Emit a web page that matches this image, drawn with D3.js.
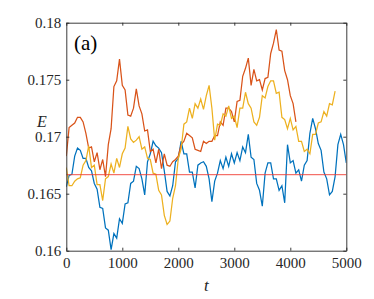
<!DOCTYPE html>
<html>
<head>
<meta charset="utf-8">
<script src="https://cdn.jsdelivr.net/npm/d3@7"></script>
<style>
  body { margin: 0; background: #fff; }
</style>
</head>
<body>
<div id="chart"></div>
<script>
// Chart size and plot box
const width = 374;
const height = 299;
const margin = { left: 66.3, right: 27.7, top: 22.7, bottom: 48.3 };
const serif = "Liberation Serif";

// time step of the series
const dt = 50;

// series values (E at t = 0, 50, 100, ...)
const blueE = [
  0.1656, 0.1666, 0.1667, 0.1683, 0.1690, 0.1688, 0.1681, 0.1681, 0.1673, 0.1670,
  0.1659, 0.1654, 0.1638, 0.1637, 0.1620, 0.1618, 0.1601, 0.1615, 0.1611, 0.1628,
  0.1624, 0.1641, 0.1642, 0.1659, 0.1661, 0.1674, 0.1672, 0.1663, 0.1649, 0.1678,
  0.1685, 0.1696, 0.1692, 0.1690, 0.1686, 0.1670, 0.1652, 0.1648, 0.1657, 0.1678,
  0.1681, 0.1696, 0.1685, 0.1685, 0.1669, 0.1669, 0.1655, 0.1675, 0.1677, 0.1678,
  0.1674, 0.1663, 0.1643, 0.1661, 0.1668, 0.1679, 0.1672, 0.1682, 0.1674, 0.1685,
  0.1677, 0.1686, 0.1679, 0.1691, 0.1686, 0.1702, 0.1682, 0.1680, 0.1659, 0.1653,
  0.1639, 0.1668, 0.1677, 0.1677, 0.1663, 0.1663, 0.1653, 0.1657, 0.1642, 0.1693,
  0.1677, 0.1679, 0.1668, 0.1671, 0.1661, 0.1675, 0.1679, 0.1703, 0.1716, 0.1707,
  0.1694, 0.1688, 0.1669, 0.1663, 0.1649, 0.1652, 0.1665, 0.1693, 0.1702, 0.1693,
  0.1677
];
const orangeE = [
  0.1683, 0.1708, 0.1710, 0.1712, 0.1717, 0.1717, 0.1713, 0.1703, 0.1690, 0.1691,
  0.1678, 0.1686, 0.1671, 0.1680, 0.1665, 0.1693, 0.1707, 0.1744, 0.1749, 0.1768,
  0.1745, 0.1741, 0.1719, 0.1718, 0.1725, 0.1742, 0.1727, 0.1720, 0.1705, 0.1706,
  0.1687, 0.1689, 0.1677, 0.1689, 0.1672, 0.1685, 0.1675, 0.1674, 0.1678, 0.1680,
  0.1683, 0.1693, 0.1696, 0.1703, 0.1701, 0.1699, 0.1689, 0.1688, 0.1687, 0.1696,
  0.1694, 0.1696, 0.1696, 0.1701, 0.1701, 0.1713, 0.1710, 0.1725, 0.1725, 0.1722,
  0.1713, 0.1731, 0.1732, 0.1753, 0.1760, 0.1769, 0.1745, 0.1759, 0.1749, 0.1750,
  0.1741, 0.1751, 0.1752, 0.1773, 0.1782, 0.1794, 0.1776, 0.1775, 0.1758, 0.1750,
  0.1736, 0.1729, 0.1713
];
const yellowE = [
  0.1673, 0.1657, 0.1657, 0.1661, 0.1663, 0.1664, 0.1675, 0.1679, 0.1692, 0.1673,
  0.1675, 0.1658, 0.1658, 0.1644, 0.1663, 0.1665, 0.1676, 0.1668, 0.1681, 0.1673,
  0.1685, 0.1690, 0.1709, 0.1698, 0.1695, 0.1697, 0.1700, 0.1689, 0.1691, 0.1681,
  0.1680, 0.1668, 0.1667, 0.1653, 0.1649, 0.1631, 0.1623, 0.1626, 0.1646, 0.1657,
  0.1681, 0.1689, 0.1711, 0.1713, 0.1725, 0.1716, 0.1729, 0.1725, 0.1733, 0.1724,
  0.1736, 0.1745, 0.1725, 0.1697, 0.1711, 0.1710, 0.1720, 0.1718, 0.1727, 0.1716,
  0.1718, 0.1708, 0.1725, 0.1725, 0.1739, 0.1729, 0.1725, 0.1713, 0.1710, 0.1717,
  0.1736, 0.1734, 0.1744, 0.1749, 0.1749, 0.1738, 0.1739, 0.1717, 0.1715, 0.1707,
  0.1716, 0.1706, 0.1709, 0.1696, 0.1696, 0.1687, 0.1689, 0.1685, 0.1702, 0.1702,
  0.1712, 0.1713, 0.1722, 0.1718, 0.1729, 0.1728, 0.1740
];

// reference level (1/6) and axis ticks
const refE = 1 / 6;
const xTicks = [0, 1000, 2000, 3000, 4000, 5000];
const yTicks = [0.16, 0.165, 0.17, 0.175, 0.18];
const yTickLabels = ["0.16", "0.165", "0.17", "0.175", "0.18"];

const seriesColors = ["#0072BD", "#D95319", "#EDB120"];

const svg = d3.select("#chart")
  .append("svg")
  .attr("width", width)
  .attr("height", height);

const x = d3.scaleLinear()
  .domain([0, 5000])
  .range([margin.left, width - margin.right]);

const y = d3.scaleLinear()
  .domain([0.16, 0.18])
  .range([height - margin.bottom, margin.top]);

// clip so lines stay in the box
svg.append("clipPath").attr("id", "clip")
  .append("rect")
  .attr("x", margin.left).attr("y", margin.top)
  .attr("width", x.range()[1] - x.range()[0])
  .attr("height", y.range()[0] - y.range()[1]);

const line = d3.line()
  .x((d, i) => x(i * dt))
  .y(d => y(d));

const plot = svg.append("g").attr("clip-path", "url(#clip)");

[blueE, orangeE, yellowE].forEach(function(vals, k) {
  plot.append("path")
    .datum(vals)
    .attr("d", line)
    .attr("fill", "none")
    .attr("stroke", seriesColors[k])
    .attr("stroke-width", 1.25);
});

// reference line
plot.append("line")
  .attr("x1", x(0)).attr("x2", x(5000))
  .attr("y1", y(refE)).attr("y2", y(refE))
  .attr("stroke", "#f03c32")
  .attr("stroke-width", 0.9);

// axes, ticks pointing inward, box on
const axisColor = "#262626";
const tickLen = 3;

const xAxis = svg.append("g")
  .attr("transform", `translate(0,${y.range()[0]})`)
  .call(d3.axisBottom(x).tickValues(xTicks).tickSizeInner(-tickLen).tickSizeOuter(0).tickPadding(7)
    .tickFormat(d3.format("d")));
const xTop = svg.append("g")
  .attr("transform", `translate(0,${y.range()[1]})`)
  .call(d3.axisTop(x).tickValues(xTicks).tickSizeInner(-tickLen).tickSizeOuter(0).tickFormat(""));
const yAxis = svg.append("g")
  .attr("transform", `translate(${x.range()[0]},0)`)
  .call(d3.axisLeft(y).tickValues(yTicks).tickSizeInner(-tickLen).tickSizeOuter(0).tickPadding(5)
    .tickFormat((d, i) => yTickLabels[i]));
const yRight = svg.append("g")
  .attr("transform", `translate(${x.range()[1]},0)`)
  .call(d3.axisRight(y).tickValues(yTicks).tickSizeInner(-tickLen).tickSizeOuter(0).tickFormat(""));

[xAxis, xTop, yAxis, yRight].forEach(function(g) {
  g.selectAll("path").attr("stroke", axisColor).attr("stroke-width", 0.9);
  g.selectAll("line").attr("stroke", axisColor).attr("stroke-width", 0.9);
  g.selectAll("text")
    .style("font-family", serif)
    .style("font-size", "15px")
    .attr("fill", axisColor);
});

// axis labels
svg.append("text")
  .attr("x", 42).attr("y", 127)
  .attr("text-anchor", "middle")
  .style("font-family", serif)
  .style("font-size", "16px")
  .style("font-style", "italic")
  .attr("fill", axisColor)
  .text("E");

svg.append("text")
  .attr("x", x(2500)).attr("y", 291)
  .attr("text-anchor", "middle")
  .style("font-family", serif)
  .style("font-size", "17px")
  .style("font-style", "italic")
  .attr("fill", axisColor)
  .text("t");

// panel label
svg.append("text")
  .attr("x", 74).attr("y", 50)
  .style("font-family", serif)
  .style("font-size", "21px")
  .attr("fill", "#000")
  .text("(a)");
</script>
</body>
</html>
